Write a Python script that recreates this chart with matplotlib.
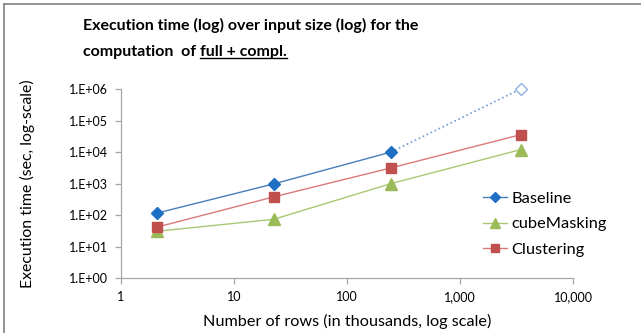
import matplotlib
matplotlib.use("Agg")
import matplotlib.pyplot as plt
from matplotlib.lines import Line2D

plt.rcParams["font.family"] = ["Lato", "DejaVu Sans"]

# ───────────── данные ─────────────
rows_k = [2.1, 22.5, 245, 3450]
baseline = [117, 980, 10000, 1000000]
cube_masking = [31, 74, 1000, 12000]
clustering = [42, 380, 3150, 35700]

labels = ["Baseline", "cubeMasking", "Clustering"]
x_ticks = [1, 10, 100, 1000, 10000]
x_tick_labels = ["1", "10", "100", "1,000", "10,000"]
y_ticks = [1, 10, 100, 1e3, 1e4, 1e5, 1e6]
y_tick_labels = ["1.E+00", "1.E+01", "1.E+02", "1.E+03", "1.E+04", "1.E+05", "1.E+06"]

W, H = 641, 333
fig = plt.figure(figsize=(W / 100, H / 100), dpi=100)

# область графика в пикселях
left, right, top, bottom = 120.7, 573.0, 89.0, 278.3
ax = fig.add_axes([left / W, 1 - bottom / H, (right - left) / W, (bottom - top) / H])
ax.patch.set_alpha(0)

c_base_line, c_base_mk = "#4A7EBB", "#1F6FC5"
c_cube_line, c_cube_mk = "#A9C873", "#9BBB59"
c_clu_line, c_clu_mk = "#D9797A", "#C0504D"

# Baseline: сплошная до третьей точки, пунктир к оценке
ax.plot(rows_k[:3], baseline[:3], "-", color=c_base_line, lw=1.0, zorder=2)
ax.plot(rows_k[2:], baseline[2:], ":", color="#6F9BD6", lw=1.2, zorder=2)
ax.plot(rows_k[:3], baseline[:3], "D", color=c_base_mk, ms=6.5, mec=c_base_mk, zorder=3)
ax.plot(rows_k[3:], baseline[3:], "D", mfc="white", mec="#8FB3E0", ms=6.5, mew=1.0,
        zorder=3, clip_on=False)

ax.plot(rows_k, cube_masking, "-", color=c_cube_line, lw=1.0, zorder=2)
ax.plot(rows_k, cube_masking, "^", color=c_cube_mk, ms=8, zorder=3)

ax.plot(rows_k, clustering, "-", color=c_clu_line, lw=1.0, zorder=2)
ax.plot(rows_k, clustering, "s", color=c_clu_mk, ms=7, zorder=3)

ax.set_xscale("log")
ax.set_yscale("log")
ax.set_xlim(1, 10000)
ax.set_ylim(1, 1e6)
ax.set_xticks(x_ticks)
ax.set_xticklabels(x_tick_labels)
ax.set_yticks(y_ticks)
ax.set_yticklabels(y_tick_labels)
ax.minorticks_off()
for s in ["top", "right"]:
    ax.spines[s].set_visible(False)
for s in ["left", "bottom"]:
    ax.spines[s].set_color("#A6A6A6")
    ax.spines[s].set_linewidth(0.9)
ax.tick_params(axis="both", colors="#A6A6A6", length=4, width=0.9, labelsize=9,
               labelcolor="black", pad=5)

ax.set_xlabel("Number of rows (in thousands, log scale)", fontsize=11.7, labelpad=8)
ax.set_ylabel("Execution time (sec, log-scale)", fontsize=11.4)
ax.yaxis.set_label_coords((35 - left) / (right - left), 0.5)

# легенда
handles = [
    Line2D([], [], color=c_base_line, lw=1.0, marker="D", ms=5, mfc=c_base_mk, mec=c_base_mk),
    Line2D([], [], color=c_cube_line, lw=1.0, marker="^", ms=6.5, mfc=c_cube_mk, mec=c_cube_mk),
    Line2D([], [], color=c_clu_line, lw=1.0, marker="s", ms=5.5, mfc=c_clu_mk, mec=c_clu_mk),
]
fig.legend(handles, labels, loc="center left", bbox_to_anchor=(476 / W, 1 - 224 / H),
           frameon=False, fontsize=11.8, handlelength=1.5, handletextpad=0.25,
           labelspacing=0.66, borderaxespad=0)

# заголовок
title_kw = dict(fontsize=11.5, fontweight="bold", va="center", ha="left")
fig.text(83 / W, 1 - 25 / H, "Execution time (log) over input size (log) for the", **title_kw)
t2 = fig.text(83 / W, 1 - 52 / H, "computation  of ", **title_kw)
fig.canvas.draw()
r = fig.canvas.get_renderer()
bb = t2.get_window_extent(r)
t3 = fig.text(bb.x1 / W, 1 - 52 / H, "full + compl.", **title_kw)
bb3 = t3.get_window_extent(r)
uy = bb3.y0 + 1.5
fig.add_artist(Line2D([bb3.x0 / W, bb3.x1 / W], [uy / H, uy / H], color="black", lw=1.0))

# рамка (только верх и лево, как на скриншоте)
fig.add_artist(Line2D([4 / W, 1], [1 - 4 / H, 1 - 4 / H], color="#808080", lw=1.2))
fig.add_artist(Line2D([4 / W, 4 / W], [0, 1 - 4 / H], color="#808080", lw=1.2))

fig.savefig("out.png", dpi=100)
